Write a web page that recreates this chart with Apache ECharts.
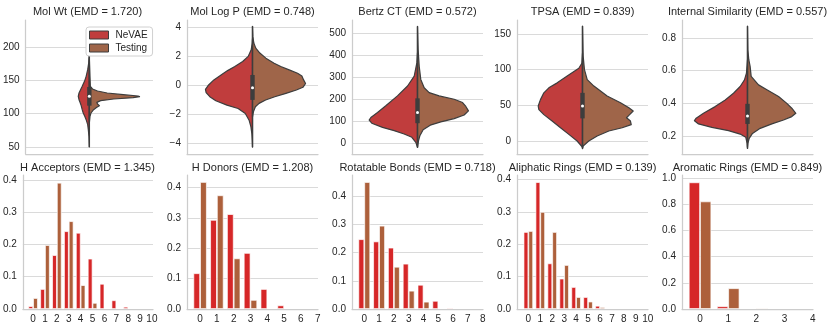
<!DOCTYPE html>
<html><head><meta charset="utf-8">
<script src="https://cdn.jsdelivr.net/npm/echarts@6/dist/echarts.min.js"></script>
<style>html,body{margin:0;padding:0;background:#fff}#c{width:830px;height:329px}</style>
</head><body><div id="c"></div>
<script>
// ---------------- DATA ----------------
const seriesNames = ['NeVAE', 'Testing'];
const violinTitles = ['Mol Wt (EMD = 1.720)', 'Mol Log P (EMD = 0.748)', 'Bertz CT (EMD = 0.572)', 'TPSA (EMD = 0.839)', 'Internal Similarity (EMD = 0.557)'];
const barTitles = ['H Acceptors (EMD = 1.345)', 'H Donors (EMD = 1.208)', 'Rotatable Bonds (EMD = 0.718)', 'Aliphatic Rings (EMD = 0.139)', 'Aromatic Rings (EMD = 0.849)'];

// violin half profiles: [value, half-width]
const molWtNeVAE = [[191,0],[176,0.005],[166,0.013],[156,0.025],[148.5,0.038],[141,0.056],[136,0.069],[131,0.081],[126,0.087],[121,0.081],[116,0.071],[112,0.064],[106,0.056],[101,0.048],[96,0.036],[91,0.025],[83.5,0.013],[76,0.008],[66,0.003],[50,0]];
const molWtTesting = [[183.5,0],[156,0.005],[141,0.008],[137,0.025],[134,0.064],[131,0.140],[128.5,0.267],[126.5,0.382],[125.5,0.394],[124,0.344],[122,0.191],[119.5,0.089],[117,0.059],[114.5,0.064],[112,0.079],[109.5,0.059],[106,0.033],[101,0.013],[96,0.005],[86,0]];
const logPNeVAE = [[3.2,0],[2.89,0.002],[2.43,0.010],[1.97,0.033],[1.62,0.075],[1.27,0.135],[0.99,0.19],[0.69,0.24],[0.35,0.295],[0,0.335],[-0.30,0.359],[-0.53,0.354],[-0.81,0.326],[-1.09,0.280],[-1.39,0.195],[-1.62,0.11],[-1.97,0.055],[-2.43,0.026],[-2.89,0.012],[-3.35,0.005],[-3.82,0.002],[-4.28,0]];
const logPTesting = [[4.05,0],[3.35,0.003],[2.89,0.010],[2.54,0.025],[2.20,0.056],[1.85,0.102],[1.50,0.165],[1.27,0.216],[1.04,0.280],[0.81,0.344],[0.62,0.377],[0.35,0.390],[0.1,0.405],[-0.16,0.385],[-0.35,0.335],[-0.58,0.255],[-0.81,0.17],[-1.04,0.10],[-1.27,0.05],[-1.5,0.022],[-1.85,0.007],[-2.2,0]];
const bertzNeVAE = [[410,0],[364,0.005],[304,0.025],[259,0.076],[214,0.153],[169,0.242],[139,0.305],[116,0.356],[104,0.369],[90,0.349],[71,0.267],[56,0.178],[41,0.102],[26,0.043],[3,0.013],[-20,0]];
const bertzTesting = [[530,0],[425,0.005],[349,0.013],[289,0.025],[251,0.051],[229,0.089],[214,0.165],[199,0.280],[184,0.344],[166,0.369],[146,0.389],[127,0.356],[111,0.280],[96,0.178],[81,0.097],[60,0.043],[33,0.018],[11,0.008],[-20,0]];
const tpsaNeVAE = [[123,0],[109,0.005],[102,0.028],[91,0.117],[81.5,0.193],[74.5,0.257],[67.5,0.295],[58,0.321],[49,0.338],[44,0.333],[37,0.295],[28,0.232],[18.6,0.168],[9.3,0.104],[0,0.041],[-7,0.008],[-9.3,0]];
const tpsaTesting = [[161,0],[119,0.005],[100,0.015],[86,0.036],[77,0.087],[63,0.188],[53.6,0.290],[46.6,0.354],[42,0.387],[36,0.354],[32.6,0.336],[28,0.366],[23,0.372],[18.6,0.303],[14,0.201],[7,0.112],[0,0.048],[-7,0.005],[-10.7,0]];
const simNeVAE = [[0.667,0],[0.585,0.008],[0.544,0.023],[0.503,0.056],[0.462,0.107],[0.421,0.170],[0.38,0.247],[0.339,0.336],[0.309,0.392],[0.294,0.405],[0.274,0.374],[0.253,0.272],[0.233,0.145],[0.212,0.056],[0.192,0.013],[0.155,0.003],[0.124,0]];
const simTesting = [[0.872,0],[0.728,0.003],[0.667,0.010],[0.626,0.020],[0.565,0.028],[0.513,0.084],[0.483,0.148],[0.442,0.237],[0.40,0.300],[0.37,0.338],[0.339,0.369],[0.319,0.338],[0.298,0.275],[0.274,0.186],[0.247,0.097],[0.216,0.038],[0.186,0.013],[0.155,0.003],[0.134,0]];

// inner box: [low, q1, median, q3, high]
const molWtBox = [50, 112, 126, 140, 191];
const logPBox = [-4.3, -1.03, -0.2, 0.69, 4.05];
const bertzBox = [-20, 90, 139, 203, 530];
const tpsaBox = [-10.7, 31.7, 49, 67.5, 161];
const simBox = [0.124, 0.274, 0.323, 0.397, 0.872];

// violin axis ranges & ticks
const molWtRange = [39.5, 240.5], molWtTicks = [50, 100, 150, 200];
const logPRange = [-4.76, 4.48], logPTicks = [-4, -2, 0, 2, 4];
const bertzRange = [-50, 559], bertzTicks = [0, 100, 200, 300, 400, 500];
const tpsaRange = [-18.2, 169.6], tpsaTicks = [0, 50, 100, 150];
const simRange = [0.09, 0.91], simTicks = [0.2, 0.4, 0.6, 0.8];

// bar data
const hAccCats = [0,1,2,3,4,5,6,7,8,9,10];
const hAccNeVAE = [0.009,0.062,0.167,0.241,0.236,0.156,0.078,0.027,0.007,0,0];
const hAccTesting = [0.034,0.198,0.391,0.272,0.074,0.019,0,0,0,0,0];
const hDonCats = [0,1,2,3,4,5,6,7];
const hDonNeVAE = [0.118,0.294,0.313,0.185,0.066,0.012,0,0];
const hDonTesting = [0.419,0.375,0.167,0.030,0,0,0,0];
const rotCats = [0,1,2,3,4,5,6,7,8];
const rotNeVAE = [0.248,0.240,0.218,0.161,0.086,0.029,0.004,0,0];
const rotTesting = [0.451,0.296,0.150,0.065,0.026,0,0,0,0];
const aliCats = [0,1,2,3,4,5,6,7,8,9,10];
const aliNeVAE = [0.238,0.392,0.141,0.094,0.068,0.037,0.010,0.001,0,0,0];
const aliTesting = [0.241,0.300,0.238,0.136,0.037,0.023,0.006,0.001,0,0,0];
const aroCats = [0,1,2,3,4];
const aroNeVAE = [0.969,0.021,0.001,0,0];
const aroTesting = [0.823,0.159,0.008,0,0];

const barYTicks = [0, 0.1, 0.2, 0.3, 0.4];
const aroYTicks = [0, 0.2, 0.4, 0.6, 0.8, 1.0];
const hAccXRange = [-0.86, 10.09], hAccYRange = [0, 0.415];
const hDonXRange = [-0.78, 7.02], hDonYRange = [0, 0.442];
const rotXRange = [-0.83, 8.02], rotYRange = [0, 0.476];
const aliXRange = [-0.95, 10.02], aliYRange = [0, 0.414];
const aroXRange = [-0.64, 4.01], aroYRange = [0, 1.025];

// ---------------- STYLE ----------------
const FONT = 'Liberation Sans, Arial, sans-serif';
const TXT = '#262626';
const SPINE = '#cccccc';
const GRIDC = '#dadada';
const OUTLINE = '#3d3d3d';
const violinColors = ['#c03d3d', '#9f6549'];
const barColors = ['#d62728', '#ad603b'];

const violins = [
  {title: violinTitles[0], a: molWtNeVAE, b: molWtTesting, box: molWtBox, range: molWtRange, ticks: molWtTicks, fmt: v => String(v)},
  {title: violinTitles[1], a: logPNeVAE, b: logPTesting, box: logPBox, range: logPRange, ticks: logPTicks, fmt: v => String(v).replace('-', '\u2212')},
  {title: violinTitles[2], a: bertzNeVAE, b: bertzTesting, box: bertzBox, range: bertzRange, ticks: bertzTicks, fmt: v => String(v)},
  {title: violinTitles[3], a: tpsaNeVAE, b: tpsaTesting, box: tpsaBox, range: tpsaRange, ticks: tpsaTicks, fmt: v => String(v)},
  {title: violinTitles[4], a: simNeVAE, b: simTesting, box: simBox, range: simRange, ticks: simTicks, fmt: v => Number(v).toFixed(1)}
];
const bars = [
  {title: barTitles[0], cats: hAccCats, a: hAccNeVAE, b: hAccTesting, xr: hAccXRange, yr: hAccYRange, yt: barYTicks},
  {title: barTitles[1], cats: hDonCats, a: hDonNeVAE, b: hDonTesting, xr: hDonXRange, yr: hDonYRange, yt: barYTicks},
  {title: barTitles[2], cats: rotCats, a: rotNeVAE, b: rotTesting, xr: rotXRange, yr: rotYRange, yt: barYTicks},
  {title: barTitles[3], cats: aliCats, a: aliNeVAE, b: aliTesting, xr: aliXRange, yr: aliYRange, yt: barYTicks},
  {title: barTitles[4], cats: aroCats, a: aroNeVAE, b: aroTesting, xr: aroXRange, yr: aroYRange, yt: aroYTicks}
];

const PANEL_W = 165, PLOT_L = 22, PLOT_W = 131, PLOT_H = 134;
const TOP_Y = [20, 175];
const TITLE_Y = [6, 162];

const grid = [], xAxis = [], yAxis = [], series = [], title = [];

function yAxisDef(gi, range, ticks, fmt) {
  return {
    type: 'value', gridIndex: gi, min: range[0], max: range[1], z: 4,
    axisLine: {show: true, onZero: false, lineStyle: {color: SPINE, width: 1.25}},
    axisTick: {show: false, customValues: ticks},
    axisLabel: {customValues: ticks, formatter: fmt, color: TXT, fontSize: 10, fontFamily: FONT, margin: 6},
    splitLine: {show: false}
  };
}

// horizontal gridlines at the tick values, drawn behind the marks
function gridLines(gi, ticks) {
  return {type: 'line', xAxisIndex: gi, yAxisIndex: gi, data: [], silent: true, z: 0,
    markLine: {silent: true, z: 0, symbol: ['none', 'none'], label: {show: false}, animation: false,
      lineStyle: {color: GRIDC, width: 1, type: 'solid'},
      emphasis: {disabled: true},
      data: ticks.map(t => ({yAxis: t}))}};
}

function violinHalf(side) {
  return function (params, api) {
    if (params.dataIndexInside !== 0) return;
    const n = params.dataInsideLength;
    const pts = [];
    pts.push(api.coord([0, api.value(0, 0)]));
    for (let i = 0; i < n; i++) {
      pts.push(api.coord([side * api.value(1, i), api.value(0, i)]));
    }
    pts.push(api.coord([0, api.value(0, n - 1)]));
    return {type: 'polygon', shape: {points: pts},
      style: {fill: api.visual('color'), stroke: OUTLINE, lineWidth: 1.2, lineJoin: 'round'}};
  };
}

function boxRender(params, api) {
  const lo = api.coord([0, api.value(0)]);
  const q1 = api.coord([0, api.value(1)]);
  const md = api.coord([0, api.value(2)]);
  const q3 = api.coord([0, api.value(3)]);
  const hi = api.coord([0, api.value(4)]);
  return {type: 'group', children: [
    {type: 'line', shape: {x1: lo[0], y1: lo[1], x2: hi[0], y2: hi[1]}, style: {stroke: OUTLINE, lineWidth: 1.4}},
    {type: 'rect', shape: {x: q3[0] - 2.2, y: q3[1], width: 4.4, height: q1[1] - q3[1]}, style: {fill: OUTLINE}},
    {type: 'circle', shape: {cx: md[0], cy: md[1], r: 1.5}, style: {fill: '#ffffff'}}
  ]};
}

violins.forEach((p, i) => {
  const gi = i;
  grid.push({left: PANEL_W * i + PLOT_L, top: TOP_Y[0], width: PLOT_W, height: PLOT_H});
  title.push({text: p.title, left: PANEL_W * i + PLOT_L + PLOT_W / 2, top: TITLE_Y[0], textAlign: 'center', padding: 0,
    textStyle: {fontSize: 11, fontWeight: 'normal', color: TXT, fontFamily: FONT}});
  xAxis.push({type: 'value', gridIndex: gi, min: -0.5, max: 0.5, z: 4,
    axisLine: {show: true, onZero: false, lineStyle: {color: SPINE, width: 1.25}},
    axisTick: {show: false}, axisLabel: {show: false}, splitLine: {show: false}});
  yAxis.push(yAxisDef(gi, p.range, p.ticks, p.fmt));
  series.push(gridLines(gi, p.ticks));
  [p.a, p.b].forEach((d, k) => {
    series.push({type: 'custom', name: seriesNames[k], coordinateSystem: 'cartesian2d', xAxisIndex: gi, yAxisIndex: gi,
      renderItem: violinHalf(k === 0 ? -1 : 1), data: d, z: 2,
      itemStyle: {color: violinColors[k]}, silent: true});
  });
  series.push({type: 'custom', name: 'box' + i, coordinateSystem: 'cartesian2d', xAxisIndex: gi, yAxisIndex: gi,
    renderItem: boxRender, data: [p.box], z: 3, silent: true});
});

bars.forEach((p, i) => {
  const gi = 5 + i;
  grid.push({left: PANEL_W * i + PLOT_L, top: TOP_Y[1], width: PLOT_W, height: PLOT_H});
  title.push({text: p.title, left: PANEL_W * i + PLOT_L + PLOT_W / 2, top: TITLE_Y[1], textAlign: 'center', padding: 0,
    textStyle: {fontSize: 11, fontWeight: 'normal', color: TXT, fontFamily: FONT}});
  xAxis.push({type: 'value', gridIndex: gi, min: p.xr[0], max: p.xr[1], z: 5,
    axisLine: {show: true, onZero: false, lineStyle: {color: SPINE, width: 1.25}},
    axisTick: {show: false, customValues: p.cats},
    axisLabel: {customValues: p.cats, formatter: v => String(v), color: TXT, fontSize: 10, fontFamily: FONT, margin: 5},
    splitLine: {show: false}});
  yAxis.push(yAxisDef(gi, p.yr, p.yt, v => Number(v).toFixed(1)));
  series.push(gridLines(gi, p.yt));
  [p.a, p.b].forEach((vals, k) => {
    series.push({type: 'bar', name: seriesNames[k], xAxisIndex: gi, yAxisIndex: gi,
      data: p.cats.map((c, j) => [c, vals[j]]),
      barWidth: '40%', barGap: '0%', z: 2,
      itemStyle: {color: barColors[k], borderColor: 'rgba(255,255,255,0.85)', borderWidth: 0.8},
      silent: true});
  });
});

const chart = echarts.init(document.getElementById('c'), null, {renderer: 'canvas'});
chart.setOption({
  animation: false,
  backgroundColor: '#ffffff',
  title: title,
  grid: grid,
  xAxis: xAxis,
  yAxis: yAxis,
  legend: {
    data: [
      {name: 'NeVAE', icon: 'rect', itemStyle: {color: violinColors[0], borderColor: OUTLINE, borderWidth: 1}},
      {name: 'Testing', icon: 'rect', itemStyle: {color: violinColors[1], borderColor: OUTLINE, borderWidth: 1}}
    ],
    orient: 'vertical', left: 86, top: 27, itemWidth: 19, itemHeight: 8, itemGap: 3, z: 10,
    selectedMode: false,
    backgroundColor: '#ffffff', borderColor: '#d0d0d0', borderWidth: 1, borderRadius: 3,
    padding: [3, 5, 3, 3],
    textStyle: {color: TXT, fontSize: 10, fontFamily: FONT, padding: [0, 0, 0, 2]}
  },
  series: series
});
</script></body></html>
